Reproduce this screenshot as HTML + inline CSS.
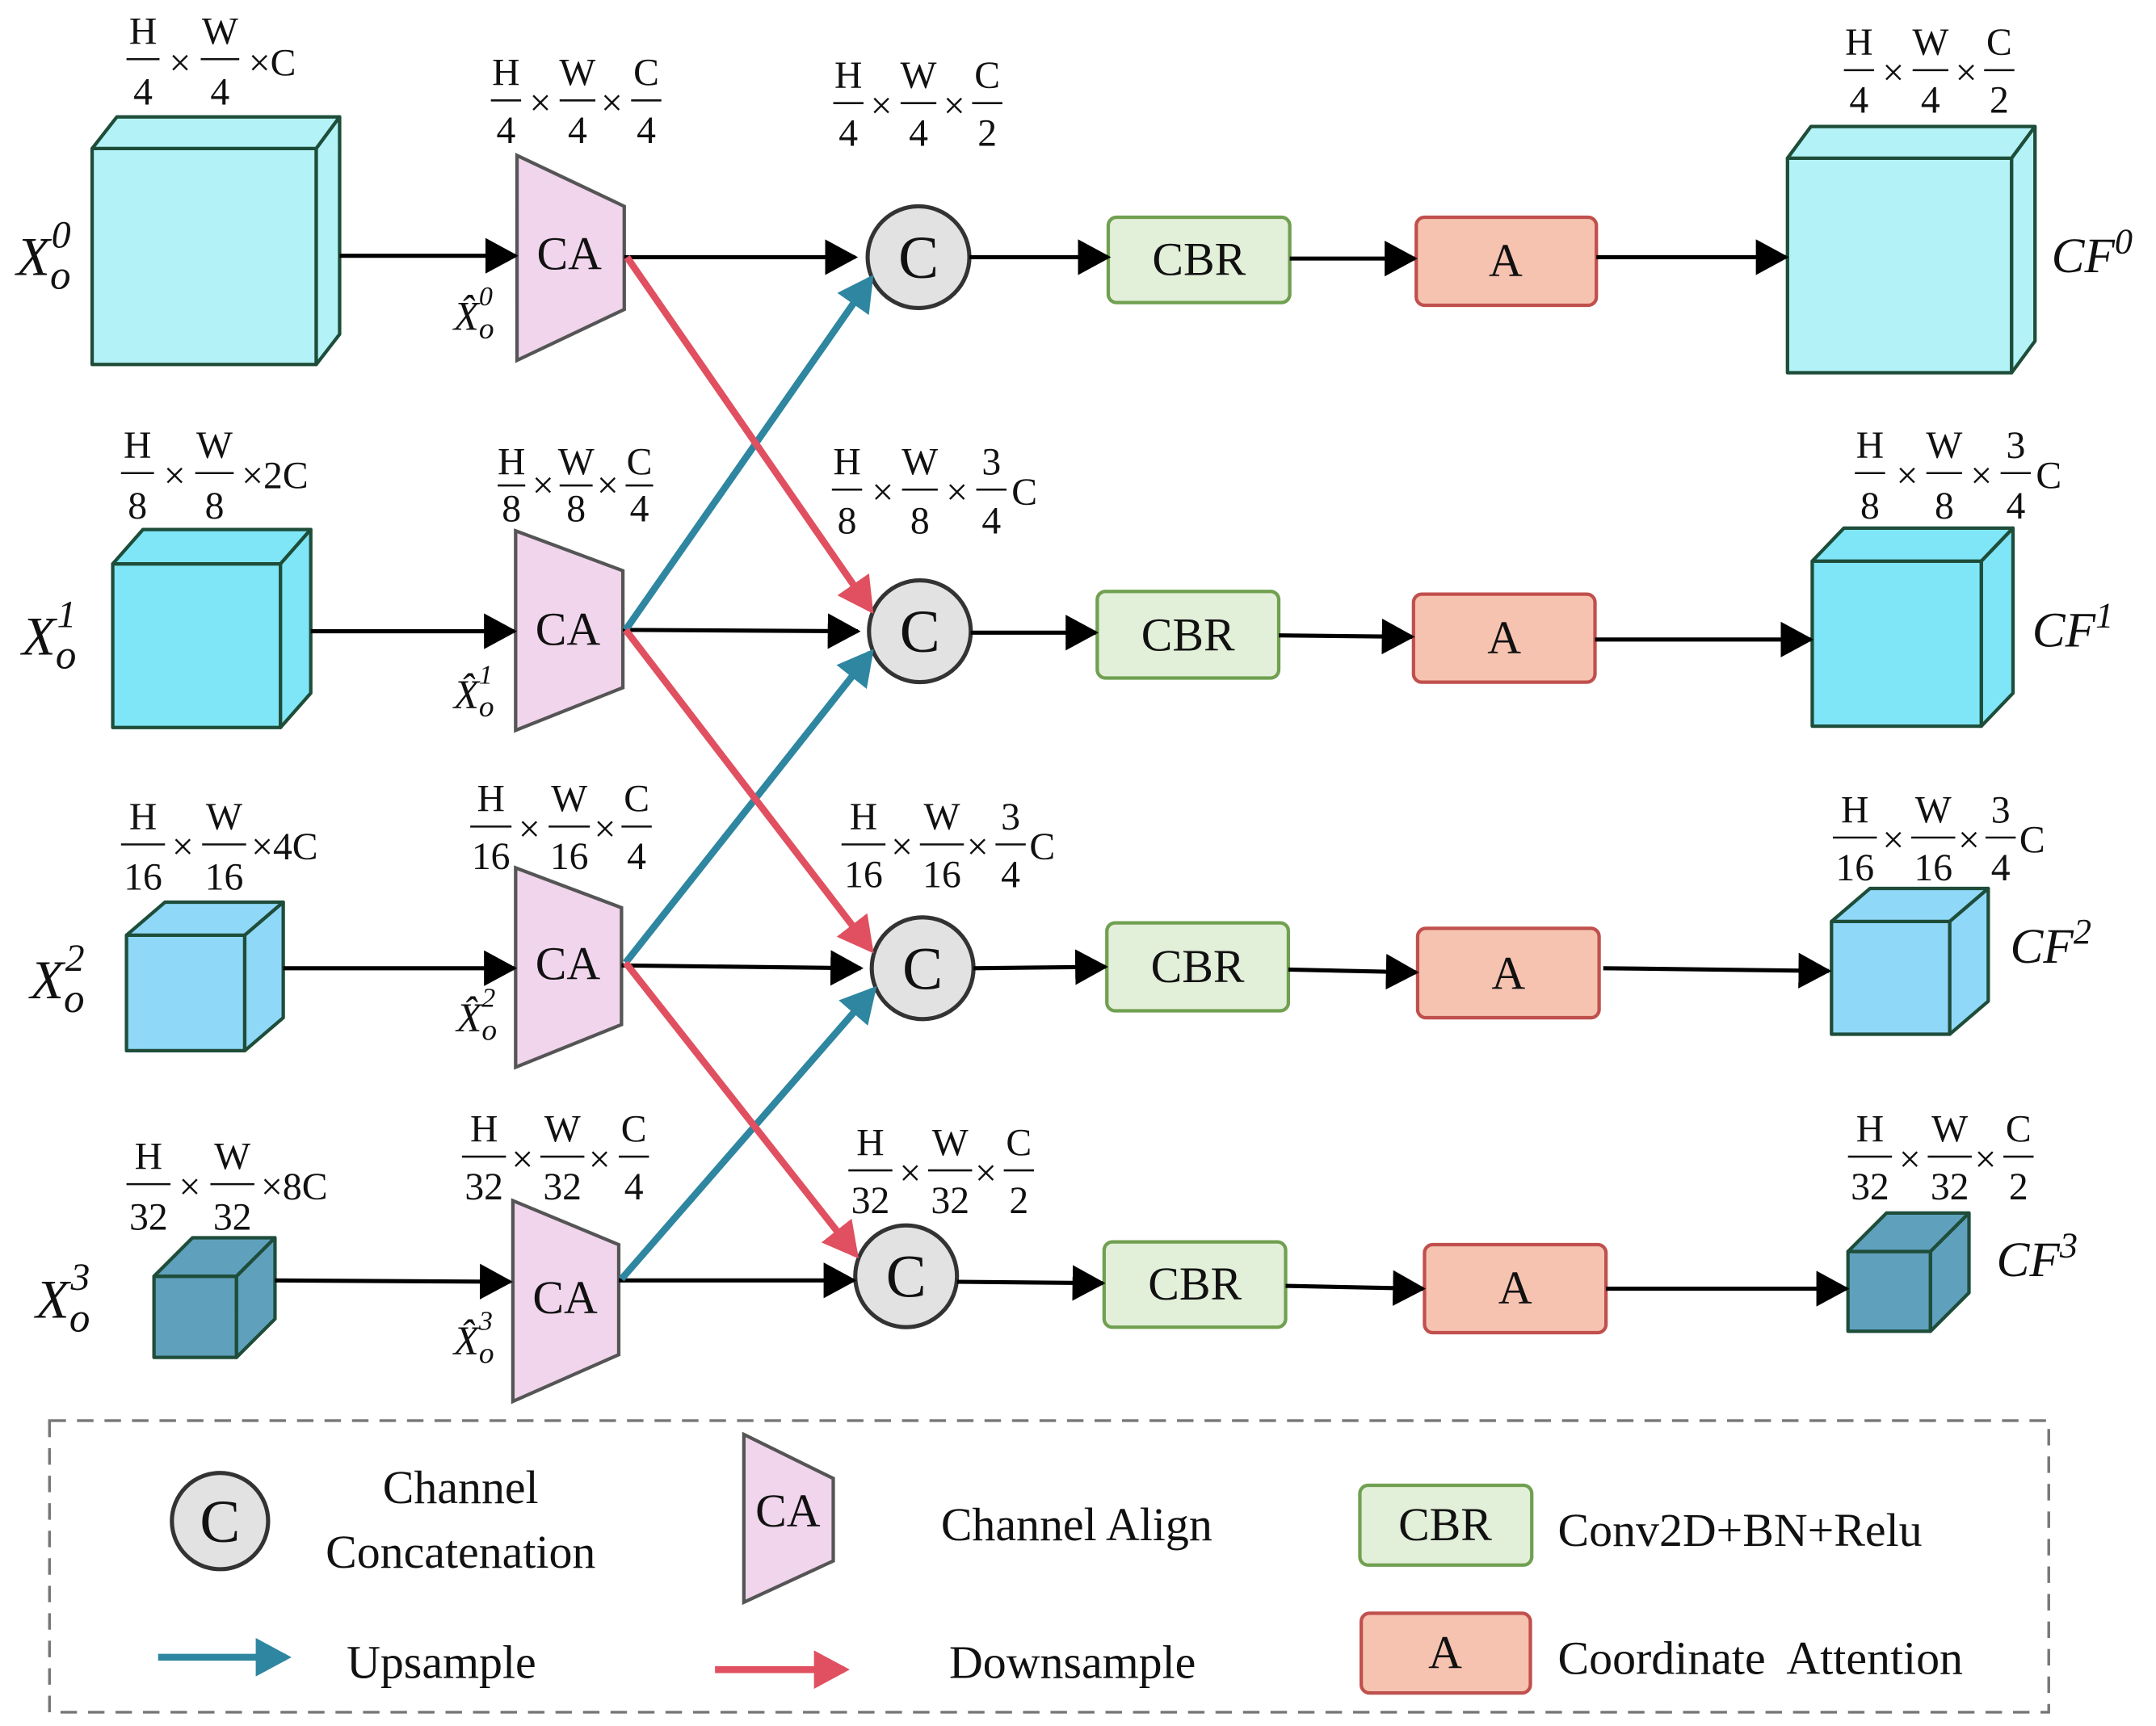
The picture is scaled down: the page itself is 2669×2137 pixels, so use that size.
<!DOCTYPE html>
<html><head><meta charset="utf-8"><style>
html,body{margin:0;padding:0;background:#fff}
svg{display:block}
text{font-family:"Liberation Serif",serif;fill:#111}
.f{font-size:28px;text-anchor:middle}
.m{font-style:italic;font-size:40px}
.b{font-size:34px;text-anchor:middle}
.l{font-size:34px}
</style></head><body>
<svg width="2669" height="2137" viewBox="0 0 1568 1255" preserveAspectRatio="none" xmlns="http://www.w3.org/2000/svg">
<defs>
<marker id="k" markerUnits="userSpaceOnUse" markerWidth="24" markerHeight="26" refX="22" refY="13" orient="auto"><path d="M0,0L24,13L0,26z" fill="#000"/></marker>
<marker id="bl" markerUnits="userSpaceOnUse" markerWidth="26" markerHeight="28" refX="22" refY="14" orient="auto"><path d="M0,0L26,14L0,28z" fill="#2e86a0"/></marker>
<marker id="rd" markerUnits="userSpaceOnUse" markerWidth="26" markerHeight="28" refX="22" refY="14" orient="auto"><path d="M0,0L26,14L0,28z" fill="#e05060"/></marker>
</defs>
<g stroke="#1e4d3a" stroke-width="2.5" stroke-linejoin="round">
<g fill="#b3f2f7"><rect x="67" y="108" width="163" height="157"/><path d="M67,108L85,85L247,85L230,108z"/><path d="M230,108L247,85L247,243L230,265z"/></g>
<g fill="#7fe6f7"><rect x="82" y="410" width="122" height="119"/><path d="M82,410L104,385L226,385L204,410z"/><path d="M204,410L226,385L226,504L204,529z"/></g>
<g fill="#8fd8f8"><rect x="92" y="680" width="86" height="84"/><path d="M92,680L120,656L206,656L178,680z"/><path d="M178,680L206,656L206,740L178,764z"/></g>
<g fill="#5fa0bd"><rect x="112" y="928" width="60" height="59"/><path d="M112,928L140,900L200,900L172,928z"/><path d="M172,928L200,900L200,959L172,987z"/></g>
<g fill="#b3f2f7"><rect x="1300" y="115" width="163" height="156"/><path d="M1300,115L1317,92L1480,92L1463,115z"/><path d="M1463,115L1480,92L1480,248L1463,271z"/></g>
<g fill="#7fe6f7"><rect x="1318" y="408" width="123" height="120"/><path d="M1318,408L1341,384L1464,384L1441,408z"/><path d="M1441,408L1464,384L1464,504L1441,528z"/></g>
<g fill="#8fd8f8"><rect x="1332" y="670" width="86" height="82"/><path d="M1332,670L1360,646L1446,646L1418,670z"/><path d="M1418,670L1446,646L1446,728L1418,752z"/></g>
<g fill="#5fa0bd"><rect x="1344" y="910" width="60" height="58"/><path d="M1344,910L1372,882L1432,882L1404,910z"/><path d="M1404,910L1432,882L1432,940L1404,968z"/></g>
</g>
<g fill="#f0d5ec" stroke="#555" stroke-width="2.5">
<path d="M376,113L454,150L454,225L376,262z"/>
<path d="M375,386L453,415L453,500L375,531z"/>
<path d="M375,631L452,660L452,745L375,776z"/>
<path d="M373,873L450,905L450,985L373,1019z"/>
<path d="M541,1043L606,1075L606,1135L541,1165z"/>
</g>
<g class="b"><text x="414" y="196">CA</text><text x="413" y="469">CA</text><text x="413" y="712">CA</text><text x="411" y="955">CA</text><text x="573" y="1110">CA</text></g>
<g fill="#e2e2e2" stroke="#333" stroke-width="3">
<circle cx="668" cy="187" r="37"/><circle cx="669" cy="459" r="37"/><circle cx="671" cy="704" r="37"/><circle cx="659" cy="928" r="37"/><circle cx="160" cy="1106" r="35"/>
</g>
<g font-size="44" text-anchor="middle"><text x="668" y="202">C</text><text x="669" y="474">C</text><text x="671" y="719">C</text><text x="659" y="943">C</text><text x="160" y="1121">C</text></g>
<g fill="#e2efd9" stroke="#70a050" stroke-width="2.5">
<rect x="806" y="158" width="132" height="62" rx="6"/><rect x="798" y="430" width="132" height="63" rx="6"/><rect x="805" y="671" width="132" height="64" rx="6"/><rect x="803" y="903" width="132" height="62" rx="6"/><rect x="989" y="1080" width="125" height="58" rx="6"/>
</g>
<g class="b"><text x="872" y="200">CBR</text><text x="864" y="473">CBR</text><text x="871" y="714">CBR</text><text x="869" y="945">CBR</text><text x="1051" y="1120">CBR</text></g>
<g fill="#f6c3b0" stroke="#c0504d" stroke-width="2.5">
<rect x="1030" y="158" width="131" height="64" rx="6"/><rect x="1028" y="432" width="132" height="64" rx="6"/><rect x="1031" y="675" width="132" height="65" rx="6"/><rect x="1036" y="905" width="132" height="64" rx="6"/><rect x="990" y="1173" width="123" height="58" rx="6"/>
</g>
<g class="b"><text x="1095" y="201">A</text><text x="1094" y="475">A</text><text x="1097" y="719">A</text><text x="1102" y="948">A</text><text x="1051" y="1213">A</text></g>
<g stroke="#000" stroke-width="3" marker-end="url(#k)">
<line x1="247" y1="186" x2="375" y2="186"/><line x1="454" y1="187" x2="622" y2="187"/><line x1="705" y1="187" x2="806" y2="187"/><line x1="938" y1="188" x2="1029" y2="188"/><line x1="1161" y1="187" x2="1299" y2="187"/>
<line x1="226" y1="459" x2="374" y2="459"/><line x1="453" y1="458" x2="624" y2="459"/><line x1="706" y1="460" x2="797" y2="460"/><line x1="930" y1="462" x2="1027" y2="463"/><line x1="1160" y1="465" x2="1317" y2="465"/>
<line x1="206" y1="704" x2="374" y2="704"/><line x1="452" y1="702" x2="626" y2="704"/><line x1="708" y1="704" x2="804" y2="703"/><line x1="937" y1="705" x2="1030" y2="707"/><line x1="1166" y1="704" x2="1330" y2="706"/>
<line x1="200" y1="931" x2="371" y2="932"/><line x1="450" y1="931" x2="621" y2="931"/><line x1="696" y1="932" x2="802" y2="933"/><line x1="935" y1="935" x2="1035" y2="937"/><line x1="1168" y1="937" x2="1343" y2="937"/>
</g>
<g stroke="#2e86a0" stroke-width="5" marker-end="url(#bl)">
<line x1="455" y1="458" x2="633" y2="203"/><line x1="455" y1="700" x2="633" y2="475"/><line x1="452" y1="930" x2="635" y2="720"/><line x1="115" y1="1205" x2="208" y2="1205"/>
</g>
<g stroke="#e05060" stroke-width="5" marker-end="url(#rd)">
<line x1="456" y1="187" x2="633" y2="443"/><line x1="455" y1="458" x2="633" y2="690"/><line x1="455" y1="700" x2="622" y2="912"/><line x1="520" y1="1214" x2="614" y2="1214"/>
</g>
<rect x="36" y="1033" width="1454" height="212" fill="none" stroke="#777" stroke-width="2" stroke-dasharray="12,8"/>
<g class="l" text-anchor="middle"><text x="335" y="1093">Channel</text><text x="335" y="1140">Concatenation</text><text x="783" y="1120">Channel Align</text><text x="321" y="1220">Upsample</text><text x="780" y="1220">Downsample</text></g>
<g class="l"><text x="1133" y="1124">Conv2D+BN+Relu</text><text x="1133" y="1217" xml:space="preserve">Coordinate  Attention</text></g>
<g class="m">
<text x="12" y="200">X<tspan font-size="30" dy="10">o</tspan><tspan font-size="28" dx="-14" dy="-30">0</tspan></text>
<text x="16" y="476">X<tspan font-size="30" dy="10">o</tspan><tspan font-size="28" dx="-14" dy="-30">1</tspan></text>
<text x="22" y="726">X<tspan font-size="30" dy="10">o</tspan><tspan font-size="28" dx="-14" dy="-30">2</tspan></text>
<text x="26" y="958">X<tspan font-size="30" dy="10">o</tspan><tspan font-size="28" dx="-14" dy="-30">3</tspan></text>
<text x="1492" y="198" font-size="36">CF<tspan font-size="26" dy="-14">0</tspan></text>
<text x="1478" y="470" font-size="36">CF<tspan font-size="26" dy="-14">1</tspan></text>
<text x="1462" y="700" font-size="36">CF<tspan font-size="26" dy="-14">2</tspan></text>
<text x="1452" y="928" font-size="36">CF<tspan font-size="26" dy="-14">3</tspan></text>
</g>
<g font-style="italic" font-size="30">
<text x="330" y="240">X̂<tspan font-size="22" dy="6">o</tspan><tspan font-size="20" dx="-11" dy="-24">0</tspan></text>
<text x="330" y="515">X̂<tspan font-size="22" dy="6">o</tspan><tspan font-size="20" dx="-11" dy="-24">1</tspan></text>
<text x="332" y="750">X̂<tspan font-size="22" dy="6">o</tspan><tspan font-size="20" dx="-11" dy="-24">2</tspan></text>
<text x="330" y="985">X̂<tspan font-size="22" dy="6">o</tspan><tspan font-size="20" dx="-11" dy="-24">3</tspan></text>
</g>
<g class="f" stroke="none">
<text x="104" y="32">H</text><text x="104" y="76">4</text><text x="160" y="32">W</text><text x="160" y="76">4</text><text x="131" y="55">×</text><text x="198" y="55">×C</text>
<text x="368" y="62">H</text><text x="368" y="104">4</text><text x="420" y="62">W</text><text x="420" y="104">4</text><text x="470" y="62">C</text><text x="470" y="104">4</text><text x="393" y="84">×</text><text x="445" y="84">×</text>
<text x="617" y="64">H</text><text x="617" y="106">4</text><text x="668" y="64">W</text><text x="668" y="106">4</text><text x="718" y="64">C</text><text x="718" y="106">2</text><text x="641" y="86">×</text><text x="694" y="86">×</text>
<text x="1352" y="40">H</text><text x="1352" y="82">4</text><text x="1404" y="40">W</text><text x="1404" y="82">4</text><text x="1454" y="40">C</text><text x="1454" y="82">2</text><text x="1377" y="62">×</text><text x="1430" y="62">×</text>
<text x="100" y="333">H</text><text x="100" y="377">8</text><text x="156" y="333">W</text><text x="156" y="377">8</text><text x="127" y="355">×</text><text x="200" y="355">×2C</text>
<text x="372" y="345">H</text><text x="372" y="379">8</text><text x="419" y="345">W</text><text x="419" y="379">8</text><text x="465" y="345">C</text><text x="465" y="379">4</text><text x="395" y="362">×</text><text x="442" y="362">×</text>
<text x="616" y="345">H</text><text x="616" y="388">8</text><text x="669" y="345">W</text><text x="669" y="388">8</text><text x="721" y="345">3</text><text x="721" y="388">4</text><text x="642" y="367">×</text><text x="696" y="367">×</text><text x="745" y="367">C</text>
<text x="1360" y="333">H</text><text x="1360" y="377">8</text><text x="1414" y="333">W</text><text x="1414" y="377">8</text><text x="1466" y="333">3</text><text x="1466" y="377">4</text><text x="1387" y="355">×</text><text x="1441" y="355">×</text><text x="1490" y="355">C</text>
<text x="104" y="603">H</text><text x="104" y="647">16</text><text x="163" y="603">W</text><text x="163" y="647">16</text><text x="133" y="625">×</text><text x="207" y="625">×4C</text>
<text x="357" y="590">H</text><text x="357" y="632">16</text><text x="414" y="590">W</text><text x="414" y="632">16</text><text x="463" y="590">C</text><text x="463" y="632">4</text><text x="385" y="612">×</text><text x="440" y="612">×</text>
<text x="628" y="603">H</text><text x="628" y="645">16</text><text x="685" y="603">W</text><text x="685" y="645">16</text><text x="735" y="603">3</text><text x="735" y="645">4</text><text x="656" y="625">×</text><text x="711" y="625">×</text><text x="758" y="625">C</text>
<text x="1349" y="598">H</text><text x="1349" y="640">16</text><text x="1406" y="598">W</text><text x="1406" y="640">16</text><text x="1455" y="598">3</text><text x="1455" y="640">4</text><text x="1377" y="620">×</text><text x="1432" y="620">×</text><text x="1478" y="620">C</text>
<text x="108" y="850">H</text><text x="108" y="894">32</text><text x="169" y="850">W</text><text x="169" y="894">32</text><text x="138" y="872">×</text><text x="214" y="872">×8C</text>
<text x="352" y="830">H</text><text x="352" y="872">32</text><text x="409" y="830">W</text><text x="409" y="872">32</text><text x="461" y="830">C</text><text x="461" y="872">4</text><text x="380" y="852">×</text><text x="436" y="852">×</text>
<text x="633" y="840">H</text><text x="633" y="882">32</text><text x="691" y="840">W</text><text x="691" y="882">32</text><text x="741" y="840">C</text><text x="741" y="882">2</text><text x="662" y="862">×</text><text x="717" y="862">×</text>
<text x="1360" y="830">H</text><text x="1360" y="872">32</text><text x="1418" y="830">W</text><text x="1418" y="872">32</text><text x="1468" y="830">C</text><text x="1468" y="872">2</text><text x="1389" y="852">×</text><text x="1444" y="852">×</text>
</g>
<g stroke="#111" stroke-width="1.5">
<path d="M92,43h24M146,43h28"/>
<path d="M357,73h22M407,73h26M459,73h22"/>
<path d="M606,75h22M655,75h26M707,75h22"/>
<path d="M1341,51h22M1391,51h26M1443,51h22"/>
<path d="M88,344h24M142,344h28"/>
<path d="M362,353h20M407,353h24M455,353h20"/>
<path d="M605,356h22M656,356h26M710,356h22"/>
<path d="M1349,344h22M1401,344h26M1455,344h22"/>
<path d="M88,614h32M147,614h32"/>
<path d="M342,601h30M399,601h30M452,601h22"/>
<path d="M612,614h32M669,614h32M724,614h22"/>
<path d="M1333,609h32M1390,609h32M1444,609h22"/>
<path d="M92,861h32M153,861h32"/>
<path d="M336,841h32M393,841h32M450,841h22"/>
<path d="M617,851h32M675,851h32M730,851h22"/>
<path d="M1344,841h32M1402,841h32M1457,841h22"/>
</g>
</svg>
</body></html>
